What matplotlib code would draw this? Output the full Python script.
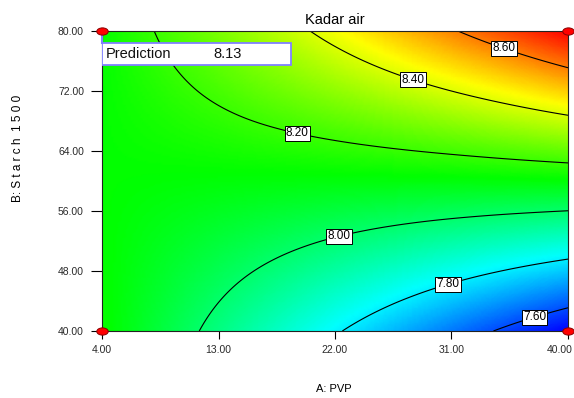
import numpy as np
import matplotlib
matplotlib.use("Agg")
import matplotlib.pyplot as plt
import matplotlib.tri as mtri
from matplotlib.colors import LinearSegmentedColormap
from matplotlib.markers import MarkerStyle
from matplotlib.transforms import Affine2D, ScaledTranslation
from matplotlib.patches import Rectangle

# ---- data ----
A_levels = [4, 10, 16, 22, 28, 34, 40]          # A: PVP
B_levels = [40, 48, 56, 64, 72, 80]             # B: Starch 1500
Z_B40 = [8.141, 8.028, 7.918, 7.810, 7.706, 7.604, 7.505]
Z_B48 = [8.136, 8.065, 7.997, 7.931, 7.868, 7.808, 7.751]
Z_B56 = [8.133, 8.104, 8.078, 8.054, 8.033, 8.015, 7.999]
Z_B64 = [8.132, 8.145, 8.160, 8.178, 8.199, 8.223, 8.250]
Z_B72 = [8.133, 8.187, 8.245, 8.305, 8.368, 8.433, 8.502]
Z_B80 = [8.135, 8.232, 8.331, 8.433, 8.538, 8.645, 8.755]
contour_levels = [7.60, 7.80, 8.00, 8.20, 8.40, 8.60]
label_spots = [(37.3, 42.5), (30.6, 46.8), (22.3, 52.9), (19.1, 66.4), (28.1, 74.0), (35.2, 78.5)]
design_A = [4, 4, 40, 40]
design_B = [40, 80, 40, 80]
prediction = 8.13
x_ticks = [4, 13, 22, 31, 40]
y_ticks = [40, 48, 56, 64, 72, 80]

plt.rcParams['font.family'] = ['Liberation Sans', 'DejaVu Sans']

Z = np.array([Z_B40, Z_B48, Z_B56, Z_B64, Z_B72, Z_B80])
AA, BB = np.meshgrid(A_levels, B_levels)
tri = mtri.Triangulation(AA.ravel(), BB.ravel())
refiner = mtri.UniformTriRefiner(tri)
tri_f, z_f = refiner.refine_field(Z.ravel(), subdiv=5)

cmap = LinearSegmentedColormap.from_list(
    'de', ['#0000ff', '#00ffff', '#00ff00', '#ffff00', '#ff0000'])

fig = plt.figure(figsize=(5.74, 3.98), dpi=100)
ax = fig.add_axes([102/574, 67/398, 466/574, 300/398])

ax.tripcolor(tri_f, z_f, cmap=cmap, shading='gouraud',
             vmin=Z.min(), vmax=Z.max(), rasterized=True)
cs = ax.tricontour(tri_f, z_f, levels=contour_levels, colors='k', linewidths=0.8)
labels = ax.clabel(cs, fmt='%.2f', manual=label_spots, inline=False, fontsize=8.5)
for t in labels:
    t.set_rotation(0)
    t.set_bbox(dict(facecolor='white', edgecolor='black', linewidth=0.7, pad=1.0))

ax.set_xlim(4, 40)
ax.set_ylim(40, 80)
ax.set_xticks(x_ticks)
ax.set_xticklabels([f"{v:.2f}" for v in x_ticks])
ax.set_yticks(y_ticks)
ax.set_yticklabels([f"{v:.2f}" for v in y_ticks])
ax.tick_params(axis='x', direction='out', length=6, width=0.8, pad=4,
               labelsize=7.5, labelcolor='#2a2a2a')
ax.tick_params(axis='y', direction='out', length=8, width=0.8, pad=5,
               labelsize=7.5, labelcolor='#2a2a2a')
for s in ax.spines.values():
    s.set_linewidth(0.8)
    s.set_color('#222222')

# keep the last x tick label inside the figure
last = ax.get_xticklabels()[-1]
last.set_transform(last.get_transform() + ScaledTranslation(-8/100, 0, fig.dpi_scale_trans))

# design points
mk = MarkerStyle('o', transform=Affine2D().scale(1.5, 0.95))
ax.plot(design_A, design_B, linestyle='none', marker=mk, ms=5.5,
        mfc='#ff0000', mec='#880000', mew=0.7, clip_on=False, zorder=10)

# prediction flag
ax.plot([0, 0], [1, 0.96], transform=ax.transAxes, color='#8080ff', lw=1.5,
        clip_on=False, zorder=9)
ax.add_patch(Rectangle((0.0, 0.887), 0.4056, 0.0733, transform=ax.transAxes,
                       facecolor='white', edgecolor='#8080ff', lw=1.3, zorder=8))
ax.text(0.009, 0.923, "Prediction", transform=ax.transAxes, fontsize=10.5,
        va='center', ha='left', color='#111111', zorder=9)
ax.text(0.238, 0.923, f"{prediction:.2f}", transform=ax.transAxes, fontsize=10.5,
        va='center', ha='left', color='#111111', zorder=9)

ax.set_title("Kadar air", fontsize=10.5, pad=5)
fig.text(334/574, 1 - 389/398, "A: PVP", ha='center', va='center', fontsize=8)
fig.text(18/574, 1 - 148/398, "B: S t a r c h  1 5 0 0", ha='center', va='center',
         rotation=90, fontsize=8.5)

fig.savefig("out.png", dpi=100)
